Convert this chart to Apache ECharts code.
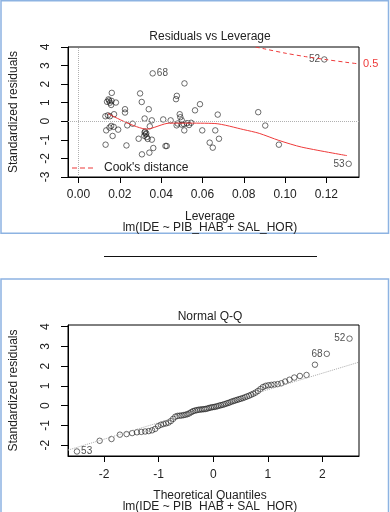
<!DOCTYPE html>
<html><head><meta charset="utf-8">
<script src="https://cdn.jsdelivr.net/npm/echarts@6/dist/echarts.min.js"></script>
<style>html,body{margin:0;padding:0;background:#fff}#c{width:390px;height:512px}</style>
</head><body><div id="c"></div>
<script>
// ---------- Residuals vs Leverage ----------
const levX = [0.0161,0.0138,0.0148,0.0152,0.0158,0.0145,0.0181,0.0130,0.0152,0.0172,
  0.0134,0.0150,0.0165,0.0192,0.0131,0.0158,0.0225,0.0225,0.0236,0.0262,
  0.0232,0.0298,0.0306,0.0340,0.0320,0.0355,0.0291,0.0320,0.0325,0.0330,
  0.0335,0.0318,0.0355,0.0345,0.0307,0.0343,0.0362,0.0421,0.0427,0.0410,
  0.0476,0.0472,0.0490,0.0493,0.0513,0.0446,0.0480,0.0500,0.0475,0.0510,
  0.0525,0.0535,0.0545,0.0512,0.0564,0.0588,0.0599,0.0662,0.0635,0.0650,
  0.0680,0.0674,0.0870,0.0904,0.0970,0.0142,0.0170,0.0328,0.0322,0.0500,0.0160];
const levY = [1.53,1.05,1.12,1.00,0.88,1.18,1.01,0.27,0.27,0.38,
  -0.49,-0.34,-0.79,-0.45,-1.26,-0.25,0.65,0.47,-0.22,-0.13,
  -1.30,1.50,1.04,0.65,0.15,0.05,-0.94,-0.60,-0.70,-0.85,
  -0.95,-0.78,-0.99,-0.27,-1.78,-1.69,-1.44,-1.33,-1.33,0.10,
  1.37,1.19,0.38,0.22,2.04,0.05,-0.12,-0.18,-0.22,-0.15,
  -0.10,-0.20,-0.08,-0.49,0.59,0.92,-0.49,-0.49,-1.15,-1.42,
  -0.94,0.36,0.49,-0.23,-1.26,0.32,-0.30,-0.65,-0.55,0.05,1.10];
const levOutX = [0.1190, 0.0359, 0.1308];
const levOutY = [3.33, 2.58, -2.29];
const levOutName = ['52', '68', '53'];
const smoothX = [0.0142,0.0330,0.0440,0.0520,0.0660,0.0800,0.0875,0.0970,0.1080,0.1300];
const smoothY = [0.42,-0.42,-0.10,-0.10,-0.12,-0.45,-0.65,-1.03,-1.39,-1.85];
const cookX = [0.0857,0.0900,0.1000,0.1100,0.1200,0.1300,0.1358];
const cookY = [4.00,3.90,3.67,3.48,3.32,3.17,3.09];
const levTicks = [0,0.02,0.04,0.06,0.08,0.10,0.12];
const resTicksTop = [-3,-2,-1,0,1,2,3,4];

// ---------- Normal Q-Q ----------
const qqX = [-2.496,-2.080,-1.863,-1.709,-1.587,-1.485,-1.397,-1.318,-1.247,-1.181,
  -1.120,-1.064,-1.010,-0.959,-0.911,-0.865,-0.820,-0.776,-0.734,-0.694,
  -0.655,-0.616,-0.579,-0.542,-0.506,-0.471,-0.437,-0.402,-0.369,-0.335,
  -0.302,-0.270,-0.237,-0.205,-0.173,-0.141,-0.110,-0.078,-0.047,-0.016,
  0.016,0.047,0.078,0.110,0.141,0.173,0.205,0.237,0.270,0.302,
  0.335,0.369,0.402,0.437,0.471,0.506,0.542,0.579,0.616,0.655,
  0.694,0.734,0.776,0.820,0.865,0.911,0.959,1.010,1.064,1.120,
  1.181,1.247,1.318,1.397,1.485,1.587,1.709,1.863,2.080,2.496];
const qqY = [-2.32,-1.78,-1.69,-1.47,-1.44,-1.39,-1.35,-1.33,-1.31,-1.29,
  -1.25,-1.18,-1.04,-0.97,-0.93,-0.90,-0.86,-0.78,-0.67,-0.56,
  -0.52,-0.51,-0.50,-0.48,-0.46,-0.43,-0.39,-0.33,-0.28,-0.25,
  -0.23,-0.21,-0.20,-0.19,-0.18,-0.17,-0.15,-0.12,-0.10,-0.08,
  -0.07,-0.05,-0.03,0.00,0.02,0.04,0.07,0.10,0.13,0.16,
  0.20,0.23,0.26,0.29,0.32,0.35,0.38,0.42,0.46,0.50,
  0.55,0.60,0.66,0.74,0.84,0.94,1.00,1.03,1.05,1.07,
  1.09,1.13,1.22,1.31,1.42,1.50,1.55,2.07,2.62,3.39];
const qqNames = {0:'53', 78:'68', 79:'52'};
const qqLineX = [-2.66, 2.67];
const qqLineY = [-2.25, 2.20];
const qqTicksX = [-2,-1,0,1,2];
const qqTicksY = [-2,-1,0,1,2,3,4];

const FONT = 'Liberation Sans, Arial, Helvetica, sans-serif';
const INK = '#222';
const RED = '#ee3a3a';
const zip = (a, b) => a.map((v, i) => [v, b[i]]);

const labelPosLev = {'52':'left','68':'right','53':'left'};
const labelPosQQ = {'52':'left','68':'left','53':'right'};

const chart = echarts.init(document.getElementById('c'), null, {renderer:'canvas'});

function xAxisCfg(grid, min, max, ticks, fmt, margin){
  return {type:'value', gridIndex:grid, min:min, max:max,
    axisLine:{show:true, onZero:false, lineStyle:{color:'#000', width:1}},
    axisTick:{show:true, customValues:ticks, length:6, lineStyle:{color:'#000'}},
    axisLabel:{customValues:ticks, formatter:fmt, fontSize:12, margin:margin, color:INK, fontFamily:FONT},
    splitLine:{show:false}};
}
function yAxisCfg(grid, min, max, ticks){
  return {type:'value', gridIndex:grid, min:min, max:max,
    name:'Standardized residuals', nameLocation:'middle', nameGap:48, nameRotate:90,
    nameTextStyle:{fontSize:12, color:INK, fontFamily:FONT},
    axisLine:{show:true, onZero:false, lineStyle:{color:'#000', width:1}},
    axisTick:{show:true, customValues:ticks, length:7, lineStyle:{color:'#000'}},
    axisLabel:{customValues:ticks, rotate:90, fontSize:12, margin:16, color:INK, fontFamily:FONT},
    splitLine:{show:false}};
}

const circle = {color:'rgba(255,255,255,0)', borderColor:'#1a1a1a', borderWidth:0.8};
const SYM = 5.5;

const option = {
  animation:false,
  textStyle:{fontFamily:FONT},
  title:[
    {text:'Residuals vs Leverage', left:210, top:31, textAlign:'center', padding:0, textStyle:{fontSize:12, fontWeight:'normal', color:INK}},
    {text:'Leverage', left:210, top:211, textAlign:'center', padding:0, textStyle:{fontSize:12, fontWeight:'normal', color:INK}},
    {text:'lm(IDE ~ PIB_HAB + SAL_HOR)', left:210, top:222, textAlign:'center', padding:0, textStyle:{fontSize:12, fontWeight:'normal', color:INK}},
    {text:'Normal Q-Q', left:210, top:311, textAlign:'center', padding:0, textStyle:{fontSize:12, fontWeight:'normal', color:INK}},
    {text:'Theoretical Quantiles', left:210, top:490, textAlign:'center', padding:0, textStyle:{fontSize:12, fontWeight:'normal', color:INK}},
    {text:'lm(IDE ~ PIB_HAB + SAL_HOR)', left:210, top:501, textAlign:'center', padding:0, textStyle:{fontSize:12, fontWeight:'normal', color:INK}}
  ],
  legend:{data:["Cook's distance"], left:67, top:157, itemWidth:21, itemHeight:2, itemGap:0,
    icon:'path://M0,0 L5,0 L5,1 L0,1 Z M8,0 L13,0 L13,1 L8,1 Z M16,0 L21,0 L21,1 L16,1 Z',
    itemStyle:{color:RED},
    textStyle:{fontSize:12, color:INK, fontFamily:FONT, padding:[0,0,0,6]}},
  grid:[
    {left:61, top:47, width:298, height:130, show:true, borderColor:'#000', borderWidth:1, backgroundColor:'transparent'},
    {left:61, top:325, width:298, height:131, show:true, borderColor:'#000', borderWidth:1, backgroundColor:'transparent'}
  ],
  xAxis:[
    xAxisCfg(0, -0.0051, 0.1358, levTicks, v => v.toFixed(2), 12),
    xAxisCfg(1, -2.66, 2.67, qqTicksX, v => String(v), 13)
  ],
  yAxis:[
    yAxisCfg(0, -3, 4, resTicksTop),
    yAxisCfg(1, -2.55, 4.08, qqTicksY)
  ],
  graphic:[
    {type:'rect', shape:{x:1, y:0.75, width:387.5, height:232.5}, style:{fill:null, stroke:'#8db3e2', lineWidth:1.5}, silent:true},
    {type:'rect', shape:{x:1, y:279, width:387.5, height:245}, style:{fill:null, stroke:'#8db3e2', lineWidth:1.5}, silent:true},
    {type:'line', shape:{x1:104, y1:256.5, x2:317, y2:256.5}, style:{stroke:'#111', lineWidth:1}, silent:true}
  ],
  series:[
    {type:'scatter', xAxisIndex:0, yAxisIndex:0, symbol:'circle', symbolSize:SYM, itemStyle:circle,
      data:zip(levX, levY), silent:true,
      markLine:{silent:true, symbol:['none','none'], label:{show:false},
        lineStyle:{type:'dotted', color:'#b0b0b0', width:1},
        data:[{xAxis:0},{yAxis:0}]}},
    {type:'scatter', xAxisIndex:0, yAxisIndex:0, symbol:'circle', symbolSize:SYM, itemStyle:circle, silent:true,
      data:levOutX.map((x,i)=>({value:[x, levOutY[i]],
        label:{show:true, formatter:levOutName[i], position:labelPosLev[levOutName[i]], distance:1, fontSize:10, color:INK}}))},
    {type:'line', name:'smooth', xAxisIndex:0, yAxisIndex:0, data:zip(smoothX, smoothY), showSymbol:false, symbol:'none',
      smooth:0.25, lineStyle:{color:RED, width:1}, silent:true},
    {type:'line', name:"Cook's distance", xAxisIndex:0, yAxisIndex:0, data:zip(cookX, cookY), symbol:'none', showSymbol:false,
      smooth:0.3, lineStyle:{color:RED, width:1, type:[4,3]}, itemStyle:{color:RED}, silent:true,
      endLabel:{show:true, formatter:'0.5', color:RED, fontSize:11, distance:4}},
    {type:'line', xAxisIndex:1, yAxisIndex:1, data:zip(qqLineX, qqLineY), symbol:'none', showSymbol:false,
      lineStyle:{color:'#aaa', width:1, type:'dotted'}, silent:true},
    {type:'scatter', xAxisIndex:1, yAxisIndex:1, symbol:'circle', symbolSize:SYM, itemStyle:circle, silent:true,
      data:qqX.map((x,i)=>{
        const n = qqNames[i];
        const d = {value:[x, qqY[i]]};
        if (n) d.label = {show:true, formatter:n, position:labelPosQQ[n], distance:1, fontSize:10, color:INK};
        return d;
      })}
  ]
};
chart.setOption(option);
</script>
</body></html>
